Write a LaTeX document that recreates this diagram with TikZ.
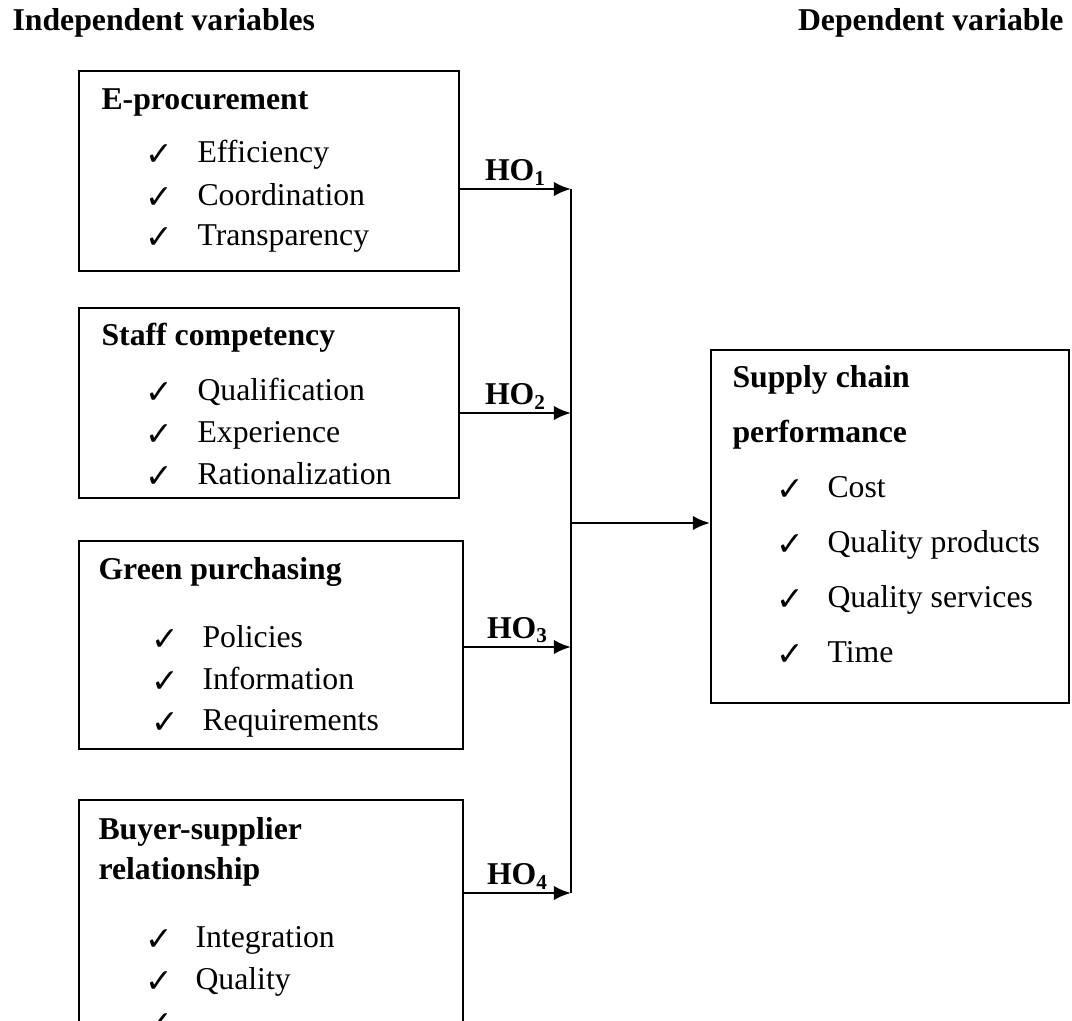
\documentclass[tikz,border=0pt]{standalone}
\usepackage{fontspec}
\setmainfont{Liberation Serif}
\newfontfamily\tickfont{DejaVu Sans}
\usetikzlibrary{arrows.meta}
\def\unitpx{0.378pt}

\begin{document}
\begin{tikzpicture}[x=\unitpx,y=-\unitpx,
  font=\fontsize{12}{14.4}\selectfont,
  varbox/.style={draw,line width=0.9pt,anchor=north west,inner sep=0pt},
  head/.style={anchor=west,inner sep=0pt,font=\fontsize{12}{14.4}\selectfont\bfseries,text height=8.5pt,text depth=2.5pt},
  item/.style={anchor=west,inner sep=0pt,text height=8.5pt,text depth=2.5pt},
  tick/.style={inner sep=0pt,font=\tickfont\fontsize{12.5}{14}\selectfont},
  hyp/.style={-{Latex[length=6.5pt,width=5.5pt]},line width=1pt},
  hyplabel/.style={above,inner sep=1pt,font=\fontsize{12}{14.4}\selectfont\bfseries}]
\clip (0,0) rectangle (1072,1020);

% Headings
\node[head] (indep) at (12,23) {Independent variables};
\node[head,anchor=east] (dep) at (1064,23) {Dependent variable};

% E-procurement
\node[varbox,minimum width=380*\unitpx,minimum height=200*\unitpx] (eproc) at (78,70) {};
\node[head] (eproc-t) at (101,102) {E-procurement};
\node[tick] (eproc-c1) at (159,155) {✓};
\node[item] (eproc-1) at (197,155) {Efficiency};
\node[tick] (eproc-c2) at (159,198) {✓};
\node[item] (eproc-2) at (197,198) {Coordination};
\node[tick] (eproc-c3) at (159,238) {✓};
\node[item] (eproc-3) at (197,238) {Transparency};

% Staff competency
\node[varbox,minimum width=380*\unitpx,minimum height=190*\unitpx] (staff) at (78,307) {};
\node[head] (staff-t) at (101,338) {Staff competency};
\node[tick] (staff-c1) at (159,393) {✓};
\node[item] (staff-1) at (197,393) {Qualification};
\node[tick] (staff-c2) at (159,435) {✓};
\node[item] (staff-2) at (197,435) {Experience};
\node[tick] (staff-c3) at (159,477) {✓};
\node[item] (staff-3) at (197,477) {Rationalization};

% Green purchasing
\node[varbox,minimum width=384*\unitpx,minimum height=208*\unitpx] (green) at (78,540) {};
\node[head] (green-t) at (98,572) {Green purchasing};
\node[tick] (green-c1) at (165,640) {✓};
\node[item] (green-1) at (202,640) {Policies};
\node[tick] (green-c2) at (165,682) {✓};
\node[item] (green-2) at (202,682) {Information};
\node[tick] (green-c3) at (165,723) {✓};
\node[item] (green-3) at (202,723) {Requirements};

% Buyer-supplier relationship (runs off the page)
\node[varbox,minimum width=384*\unitpx,minimum height=260*\unitpx] (buyer) at (78,799) {};
\node[head] (buyer-t1) at (98,832) {Buyer-supplier};
\node[head] (buyer-t2) at (98,872) {relationship};
\node[tick] (buyer-c1) at (159,940) {✓};
\node[item] (buyer-1) at (195,940) {Integration};
\node[tick] (buyer-c2) at (159,982) {✓};
\node[item] (buyer-2) at (195,982) {Quality};
\node[tick] (buyer-c3) at (159,1024) {✓};

% Supply chain performance
\node[varbox,minimum width=358*\unitpx,minimum height=353*\unitpx] (scp) at (710,349) {};
\node[head] (scp-t1) at (732,380) {Supply chain};
\node[head] (scp-t2) at (732,435) {performance};
\node[tick] (scp-c1) at (790,490) {✓};
\node[item] (scp-1) at (827,490) {Cost};
\node[tick] (scp-c2) at (790,545) {✓};
\node[item] (scp-2) at (827,545) {Quality products};
\node[tick] (scp-c3) at (790,600) {✓};
\node[item] (scp-3) at (827,600) {Quality services};
\node[tick] (scp-c4) at (790,655) {✓};
\node[item] (scp-4) at (827,655) {Time};

% Hypotheses
\coordinate (bus1) at (571,189);
\coordinate (bus2) at (571,413);
\coordinate (bus3) at (571,647);
\coordinate (bus4) at (571,893);
\coordinate (hub) at (571,523);
\draw[hyp] (eproc.east |- bus1) -- (bus1) node[hyplabel,midway] (ho1) {HO\textsubscript{1}};
\draw[hyp] (staff.east |- bus2) -- (bus2) node[hyplabel,midway] (ho2) {HO\textsubscript{2}};
\draw[hyp] (green.east |- bus3) -- (bus3) node[hyplabel,midway] (ho3) {HO\textsubscript{3}};
\draw[hyp] (buyer.east |- bus4) -- (bus4) node[hyplabel,midway] (ho4) {HO\textsubscript{4}};
\draw[line width=1pt] (bus1) -- (bus4);
\draw[hyp] (hub) -- (hub -| scp.west);

\end{tikzpicture}
\end{document}
